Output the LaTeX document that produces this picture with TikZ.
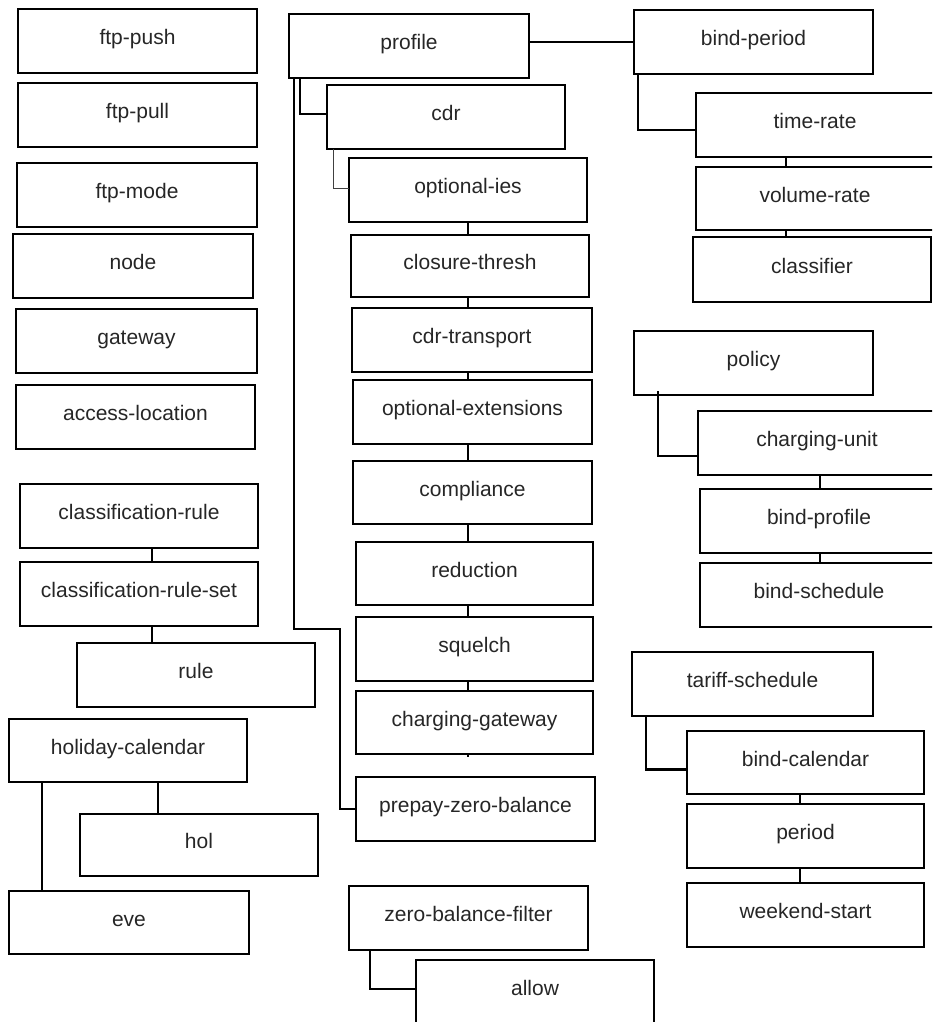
\documentclass[tikz,border=0pt]{standalone}
\usepackage{fontspec}
\setmainfont{Liberation Sans}
\usetikzlibrary{calc}

\tikzset{
  box/.style={draw=black, line width=0.6pt, rectangle, inner sep=0pt, outer sep=0pt,
              text height=7.5pt, text depth=4pt, align=center,
              font=\fontsize{10.5}{12}\selectfont, text=black!85},
  conn/.style={draw=black, line width=1.1pt},
  thinconn/.style={draw=black!75, line width=0.5pt},
}

% box given by its corners (x1,y1) and (x2,y2)
\newcommand\bx[6]{%
  \node[box, minimum width={(#4-#2)*0.5pt}, minimum height={(#5-#3)*0.5pt}]
    (#1) at ({(#2+#4)/2},{(#3+#5)/2}) {#6};}

\begin{document}
\begin{tikzpicture}[x=0.5pt, y=-0.5pt]
\useasboundingbox (0,0) rectangle (932,1022);
\clip (0,0) rectangle (932,1022);

% left column
\bx{ftppush}{18}{9}{257}{73}{ftp-push}
\bx{ftppull}{18}{83}{257}{147}{ftp-pull}
\bx{ftpmode}{17}{163}{257}{227}{ftp-mode}
\bx{nd}{13}{234}{253}{298}{node}
\bx{gateway}{16}{309}{257}{373}{gateway}
\bx{accessloc}{16}{385}{255}{449}{access-location}
\bx{classrule}{20}{484}{258}{548}{classification-rule}
\bx{classruleset}{20}{562}{258}{626}{classification-rule-set}
\bx{rule}{77}{643}{315}{707}{rule}
\bx{holcal}{9}{719}{247}{782}{holiday-calendar}
\bx{hol}{80}{814}{318}{876}{hol}
\bx{eve}{9}{891}{249}{954}{eve}

% middle column
\bx{profile}{289}{14}{529}{78}{profile}
\bx{cdr}{327}{85}{565}{149}{cdr}
\bx{optionalies}{349}{158}{587}{222}{optional-ies}
\bx{closure}{351}{235}{589}{297}{closure-thresh}
\bx{cdrtransport}{352}{308}{592}{372}{cdr-transport}
\bx{optext}{353}{380}{592}{444}{optional-extensions}
\bx{compliance}{353}{461}{592}{524}{compliance}
\bx{reduction}{356}{542}{593}{605}{reduction}
\bx{squelch}{356}{617}{593}{681}{squelch}
\bx{chgw}{356}{691}{593}{754}{charging-gateway}
\bx{prepay}{356}{777}{595}{841}{prepay-zero-balance}
\bx{zbf}{349}{886}{588}{950}{zero-balance-filter}
\bx{allow}{416}{960}{654}{1024}{allow}

% right column
\bx{bindperiod}{634}{10}{873}{74}{bind-period}
\bx{timerate}{696}{93}{934}{157}{time-rate}
\bx{volumerate}{696}{167}{934}{230}{volume-rate}
\bx{classifier}{693}{237}{931}{302}{classifier}
\bx{policy}{634}{331}{873}{395}{policy}
\bx{chgunit}{698}{411}{936}{475}{charging-unit}
\bx{bindprofile}{700}{489}{938}{553}{bind-profile}
\bx{bindschedule}{700}{563}{938}{627}{bind-schedule}
\bx{tariff}{632}{652}{873}{716}{tariff-schedule}
\bx{bindcal}{687}{731}{924}{794}{bind-calendar}
\bx{period}{687}{804}{924}{868}{period}
\bx{weekend}{687}{883}{924}{947}{weekend-start}

% anchor points for the connectors
\coordinate (pfA) at ($(profile.south west)+(11,0)$);
\coordinate (pfB) at ($(profile.south west)+(5,0)$);
\coordinate (cdrT) at ($(cdr.west)+(0,-3)$);
\coordinate (cdrA) at ($(cdr.south west)+(6,0)$);
\coordinate (oiT) at ($(optionalies.west)+(0,-2)$);
\coordinate (zbfA) at ($(zbf.south west)+(21,0)$);
\coordinate (allowT) at ($(allow.west)+(0,-3)$);
\coordinate (bpA) at ($(bindperiod.south west)+(4,0)$);
\coordinate (trT) at ($(timerate.west)+(0,5)$);
\coordinate (spR) at ($(timerate.south west)+(90,0)$);
\coordinate (poA) at ($(policy.south west)+(24,-4)$);
\coordinate (cuT) at ($(chgunit.west)+(0,13)$);
\coordinate (spP) at ($(chgunit.south west)+(122,0)$);
\coordinate (tsA) at ($(tariff.south west)+(14,0)$);
\coordinate (bcT) at ($(bindcal.west)+(0,7)$);
\coordinate (spT) at ($(bindcal.south west)+(113,0)$);
\coordinate (spC) at ($(classrule.south west)+(132,0)$);
\coordinate (hcA) at ($(holcal.south west)+(149,0)$);
\coordinate (hcB) at ($(holcal.south west)+(33,0)$);

% middle column connectors
\draw[conn] (profile.east |- bindperiod.west) -- (bindperiod.west);
\draw[conn] (pfA) |- (cdrT);
\draw[conn] (pfB) -- ++(0,551) -- ++(46,0) |- (prepay.west);
\draw[thinconn] (cdrA) |- (oiT);
\foreach \a/\b in {optionalies/closure, closure/cdrtransport, cdrtransport/optext,
                   optext/compliance, compliance/reduction, reduction/squelch,
                   squelch/chgw}
  \draw[conn] (\a.south -| optionalies.south) -- (\b.north -| optionalies.south);
\draw[conn] (chgw.south -| optionalies.south) -- ++(0,3);
\draw[conn] (zbfA) |- (allowT);

% right column connectors
\draw[conn] (bpA) |- (trT);
\draw[conn] (spR) -- (volumerate.north -| spR);
\draw[conn] (volumerate.south -| spR) -- (classifier.north -| spR);
\draw[conn] (poA) |- (cuT);
\draw[conn] (spP) -- (bindprofile.north -| spP);
\draw[conn] (bindprofile.south -| spP) -- (bindschedule.north -| spP);
\draw[conn] (tsA) |- (bcT);
\draw[conn] (spT) -- (period.north -| spT);
\draw[conn] (period.south -| spT) -- (weekend.north -| spT);

% left column connectors
\draw[conn] (spC) -- (classruleset.north -| spC);
\draw[conn] (classruleset.south -| spC) -- (rule.north -| spC);
\draw[conn] (hcA) -- (hol.north -| hcA);
\draw[conn] (hcB) -- (eve.north -| hcB);
\end{tikzpicture}
\end{document}
